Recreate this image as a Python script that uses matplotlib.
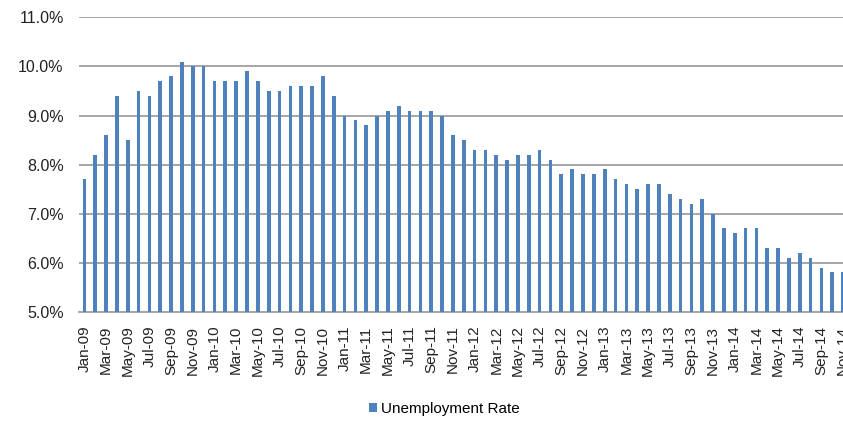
import numpy as np
import matplotlib
matplotlib.use("Agg")
import matplotlib.pyplot as plt
from matplotlib.ticker import FuncFormatter

plt.rcParams["font.family"] = ["Liberation Sans", "DejaVu Sans"]

# monthly unemployment rate, Jan-09 .. Nov-14
months = ["Jan", "Feb", "Mar", "Apr", "May", "Jun",
          "Jul", "Aug", "Sep", "Oct", "Nov", "Dec"]
years = ["09", "10", "11", "12", "13", "14"]
rate = [7.7, 8.2, 8.6, 9.4, 8.5, 9.5, 9.4, 9.7, 9.8, 10.1, 10.0, 10.0,
        9.7, 9.7, 9.7, 9.9, 9.7, 9.5, 9.5, 9.6, 9.6, 9.6, 9.8, 9.4,
        9.0, 8.9, 8.8, 9.0, 9.1, 9.2, 9.1, 9.1, 9.1, 9.0, 8.6, 8.5,
        8.3, 8.3, 8.2, 8.1, 8.2, 8.2, 8.3, 8.1, 7.8, 7.9, 7.8, 7.8,
        7.9, 7.7, 7.6, 7.5, 7.6, 7.6, 7.4, 7.3, 7.2, 7.3, 7.0, 6.7,
        6.6, 6.7, 6.7, 6.3, 6.3, 6.1, 6.2, 6.1, 5.9, 5.8, 5.8]
labels = [m + "-" + y for y in years for m in months][:len(rate)]

blue = "#4f81bd"
grid = "#a6a6a6"

fig = plt.figure(figsize=(8.43, 4.24), dpi=100)
# plot area runs a little past the right edge of the figure
ax = fig.add_axes([0.0937, 0.2649, 0.9129, 0.694])

x = np.arange(len(rate))
ax.bar(x, rate, width=0.34, color=blue, zorder=3, label="Unemployment Rate")

ax.set_xlim(-0.5, len(rate) - 0.5)
ax.set_ylim(5.0, 11.0)
ax.set_yticks(np.arange(5.0, 11.5, 1.0))
ax.yaxis.set_major_formatter(FuncFormatter(lambda v, p: "%.1f%%" % v))
ax.grid(axis="y", color=grid, linewidth=1.4, zorder=0)

ax.set_xticks(x[::2])
ax.set_xticklabels(labels[::2], rotation=90, fontsize=11, color="#222222")
ax.tick_params(axis="x", length=0, pad=10)
ax.tick_params(axis="y", length=0, pad=11, labelsize=11.5, labelcolor="#222222")

for s in ["top", "right", "left"]:
    ax.spines[s].set_visible(False)
ax.spines["bottom"].set_color(grid)
ax.spines["bottom"].set_linewidth(1.4)

fig.legend(loc="center", bbox_to_anchor=(0.527, 0.035), frameon=False,
           fontsize=11, handlelength=0.55, handleheight=0.55,
           handletextpad=0.25)

fig.savefig("out.png", dpi=100)
